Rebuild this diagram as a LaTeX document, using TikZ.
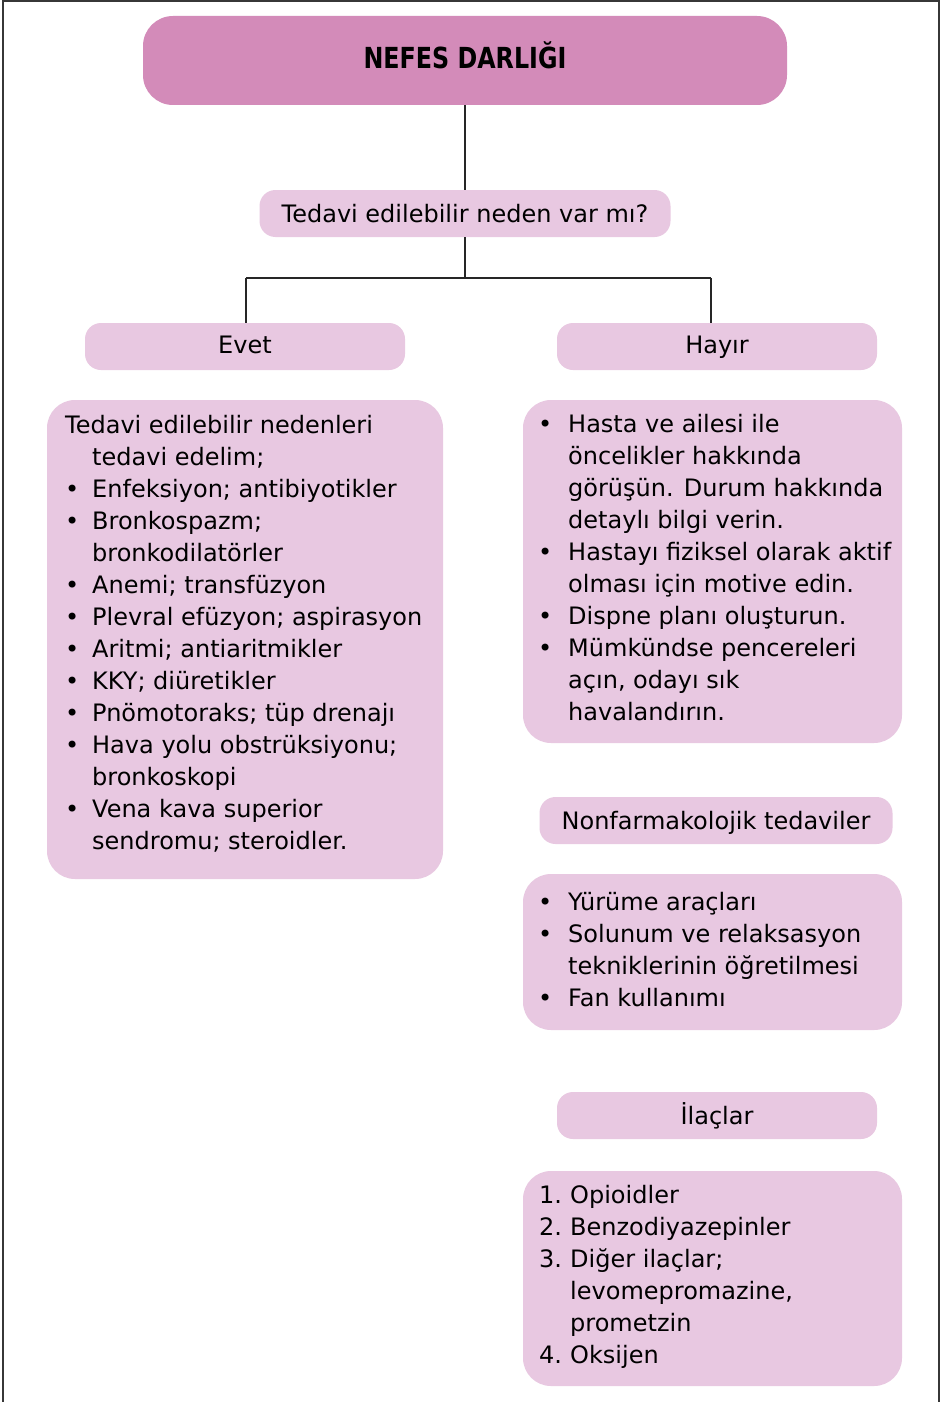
\documentclass[tikz,border=0pt]{standalone}
\usepackage{fontspec}
\setmainfont{DejaVu Sans}
\newfontfamily\titlefont{DejaVu Sans}[FakeStretch=0.82]
\usetikzlibrary{calc}

\definecolor{titlepink}{RGB}{211,139,185}
\definecolor{lightpink}{RGB}{232,200,225}
\definecolor{framegray}{RGB}{55,55,55}

% list helpers: bullet / number in a fixed-width slot, and a matching indent
\newcommand\itembul[1]{\makebox[#1][l]{•}}
\newcommand\itemnum[2]{\makebox[#1][l]{#2}}
\newcommand\itemgap[1]{\hspace*{#1}}

\tikzset{
  titlebox/.style={fill=titlepink, rounded corners=30pt, inner sep=0pt,
    text height=21pt, text depth=5pt},
  labelbox/.style={fill=lightpink, rounded corners=16pt, inner sep=0pt,
    font=\fontsize{24}{32}\selectfont, text height=17.5pt, text depth=0pt},
  listbox/.style={fill=lightpink, rounded corners=28pt, inner sep=0pt},
  body/.style={font=\fontsize{24}{32}\selectfont, inner sep=0pt,
    align=left, anchor=north west},
  link/.style={draw=black!85, line width=1.2pt},
  frameline/.style={draw=framegray, line width=1.6pt},
}

\begin{document}
\begin{tikzpicture}[x=1pt,y=-1pt]
\path[use as bounding box, fill=white] (0,0) rectangle (941,1402);
\draw[frameline] (3,1402) -- (3,1) -- (939,1) -- (939,1402);

% header and question
\node[titlebox, minimum width=644pt, minimum height=89pt,
      font=\titlefont\bfseries\fontsize{29}{34}\selectfont]
      (title) at (465,60.5) {NEFES DARLIĞI};
\node[labelbox, minimum width=411pt, minimum height=47pt]
      (q) at (465,213.5) {Tedavi edilebilir neden var mı?};

% answers
\node[labelbox, minimum width=320pt, minimum height=47pt, text depth=4pt]
      (evet) at (245,346.5) {Evet};
\node[labelbox, minimum width=320pt, minimum height=47pt, text depth=4pt]
      (hayir) at (717,346.5) {Hayır};

% connectors
\coordinate (split) at (465,278);
\coordinate (leftdrop) at (246,278);
\coordinate (rightdrop) at (711,278);
\draw[link] (title.south) -- (q.north);
\draw[link] (q.south) -- (split);
\draw[link] (leftdrop) -- (rightdrop);
\draw[link] (leftdrop) -- (leftdrop |- evet.north);
\draw[link] (rightdrop) -- (rightdrop |- hayir.north);

% left column: treatable causes
\node[listbox, minimum width=396pt, minimum height=479pt] (causes) at (245,639.5) {};
\node[body] (causestext) at (65,411.1) {%
\strut Tedavi edilebilir nedenleri\\
\itemgap{27pt}tedavi edelim;\\
\itembul{27pt}Enfeksiyon; antibiyotikler\\
\itembul{27pt}Bronkospazm;\\
\itemgap{27pt}bronkodilatörler\\
\itembul{27pt}Anemi; transfüzyon\\
\itembul{27pt}Plevral efüzyon; aspirasyon\\
\itembul{27pt}Aritmi; antiaritmikler\\
\itembul{27pt}KKY; diüretikler\\
\itembul{27pt}Pnömotoraks; tüp drenajı\\
\itembul{27pt}Hava yolu obstrüksiyonu;\\
\itemgap{27pt}bronkoskopi\\
\itembul{27pt}Vena kava superior\\
\itemgap{27pt}sendromu; steroidler.};

% right column: general measures
\node[listbox, minimum width=379pt, minimum height=343pt] (care) at (712.5,571.5) {};
\node[body] (caretext) at (538,409.6) {%
\strut\itembul{30pt}Hasta ve ailesi ile\\
\itemgap{30pt}öncelikler hakkında\\
\itemgap{30pt}görüşün. Durum hakkında\\
\itemgap{30pt}detaylı bilgi verin.\\
\itembul{30pt}Hastayı fiziksel olarak aktif\\
\itemgap{30pt}olması için motive edin.\\
\itembul{30pt}Dispne planı oluşturun.\\
\itembul{30pt}Mümkündse pencereleri\\
\itemgap{30pt}açın, odayı sık\\
\itemgap{30pt}havalandırın.};

% non-pharmacological treatment
\node[labelbox, minimum width=353pt, minimum height=47pt]
      (nonf) at (716,820.5) {Nonfarmakolojik tedaviler};
\node[listbox, minimum width=379pt, minimum height=156pt] (nonflist) at (712.5,952) {};
\node[body] (nonftext) at (538,887.6) {%
\strut\itembul{30pt}Yürüme araçları\\
\itembul{30pt}Solunum ve relaksasyon\\
\itemgap{30pt}tekniklerinin öğretilmesi\\
\itembul{30pt}Fan kullanımı};

% medication
\node[labelbox, minimum width=320pt, minimum height=47pt]
      (ilac) at (717,1115.5) {İlaçlar};
\node[listbox, minimum width=379pt, minimum height=215pt] (ilaclist) at (712.5,1278.5) {};
\node[body] (ilactext) at (539,1180.6) {%
\strut\itemnum{31pt}{1.}Opioidler\\
\itemnum{31pt}{2.}Benzodiyazepinler\\
\itemnum{31pt}{3.}Diğer ilaçlar;\\
\itemgap{31pt}levomepromazine,\\
\itemgap{31pt}prometzin\\
\itemnum{31pt}{4.}Oksijen};
\end{tikzpicture}
\end{document}
